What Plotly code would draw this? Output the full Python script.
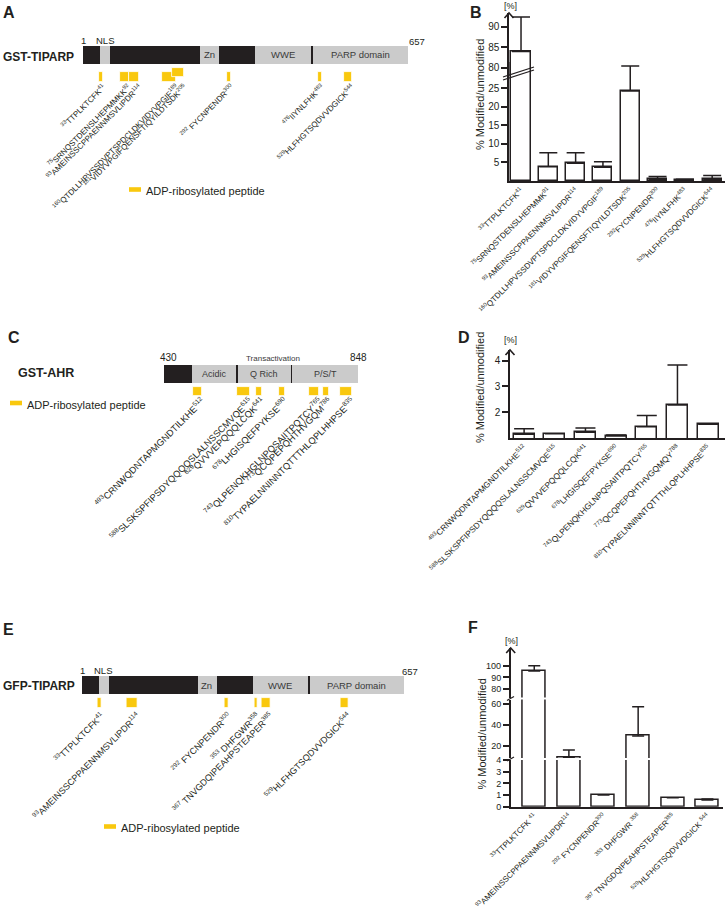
import plotly.graph_objects as go

W, H = 725, 919
def fx(p): return p / W
def fy(p): return 1 - p / H

FONT = "Liberation Sans, Arial, sans-serif"
INK = "#231f20"
YELLOW = "#f9c80e"
GREY = "#cbcbcb"
DOMTXT = "#3a3a3a"

# ------------------------------------------------------------------ data
tiparp_length = 657
tiparp_domain_names = ["NLS", "Zn", "WWE", "PARP domain"]
tiparp_domain_start = [34, 236, 348, 465]
tiparp_domain_end = [55, 275, 461, 657]

ahr_first, ahr_last = 430, 848
ahr_domain_names = ["Acidic", "Q Rich", "P/S/T"]
ahr_domain_start = [490, 589, 706]
ahr_domain_end = [586, 703, 848]

a_pep_start = [33, 75, 93, 160, 181, 292, 476, 529]
a_pep_end = [41, 92, 114, 189, 205, 300, 483, 544]
a_pep_seq = ["TTPLKTCFK", "SRNQSTDENSLHEPMMKK", "AMEINSSCPPAENNMSVLIPDR",
             "QTDLLHPVSSDVPTSPDCLDKVIDYVPGIF", "VIDYVPGIFQENSFTIQYILDTSDK",
             " FYCNPENDR", "IIYNLFHK", "HLFHGTSQDVVDGICK"]

b_labels = ["<sup>33</sup>TTPLKTCFK<sup>41</sup>",
            "<sup>75</sup>SRNQSTDENSLHEPMMK<sup>91</sup>",
            "<sup>93</sup>AMEINSSCPPAENNMSVLIPDR<sup>114</sup>",
            "<sup>160</sup>QTDLLHPVSSDVPTSPDCLDKVIDYVPGIF<sup>189</sup>",
            "<sup>181</sup>VIDYVPGIFQENSFTIQYILDTSDK<sup>205</sup>",
            "<sup>292</sup>FYCNPENDR<sup>300</sup>",
            "<sup>476</sup>IIYNLFHK<sup>483</sup>",
            "<sup>529</sup>HLFHGTSQDVVDGICK<sup>544</sup>"]
b_values = [84.0, 3.8, 4.8, 3.7, 24.2, 0.5, 0.3, 0.5]
b_errors = [8.4, 3.8, 2.8, 1.5, 6.7, 0.7, 0.2, 1.0]

c_pep_start = [493, 588, 629, 678, 743, 773, 810]
c_pep_end = [512, 615, 641, 690, 765, 786, 835]
c_pep_seq = ["CRNWQDNTAPMGNDTILKHE", "SLSKSPFIPSDYQQQQSLALNSSCMVQE", "QVVVEPQQQLCQK",
             "LHGISQEFPYKSE", "QLPENQKHGLNPQSAIITPQTCY", "QCQPEPQHTHVGQM",
             "TYPAELNNINNTQTTTHLQPLHHPSE"]

d_labels = ["<sup>493</sup>CRNWQDNTAPMGNDTILKHE<sup>512</sup>",
            "<sup>588</sup>SLSKSPFIPSDYQQQQSLALNSSCMVQE<sup>615</sup>",
            "<sup>629</sup>QVVVEPQQQLCQK<sup>641</sup>",
            "<sup>678</sup>LHGISQEFPYKSE<sup>690</sup>",
            "<sup>743</sup>QLPENQKHGLNPQSAIITPQTCY<sup>765</sup>",
            "<sup>773</sup>QCQPEPQHTHVGQMQY<sup>788</sup>",
            "<sup>810</sup>TYPAELNNINNTQTTTHLQPLHHPSE<sup>835</sup>"]
d_values = [1.15, 1.16, 1.22, 1.08, 1.44, 2.28, 1.53]
d_errors = [0.21, 0.0, 0.17, 0.04, 0.43, 1.55, 0.0]

e_pep_start = [33, 93, 292, 353, 367, 529]
e_pep_end = [41, 114, 300, 358, 385, 544]
e_pep_seq = ["TTPLKTCFK", "AMEINSSCPPAENNMSVLIPDR", " FYCNPENDR", " DHFGWR",
             " TNVGDQIPEAHPSTEAPER", "HLFHGTSQDVVDGICK"]

f_labels = ["<sup>33</sup>TTPLKTCFK <sup>41</sup>",
            "<sup>93</sup>AMEINSSCPPAENNMSVLIPDR<sup>114</sup>",
            "<sup>292</sup> FYCNPENDR<sup>300</sup>",
            "<sup>353</sup> DHFGWR <sup>358</sup>",
            "<sup>367</sup> TNVGDQIPEAHPSTEAPER<sup>385</sup>",
            "<sup>529</sup>HLFHGTSQDVVDGICK <sup>544</sup>"]
f_values = [95.4, 8.8, 1.0, 29.4, 0.77, 0.57]
f_errors = [4.6, 7.0, 0.0, 28.3, 0.0, 0.09]

legend_text = "ADP-ribosylated peptide"
y_title = "% Modified/unmodified"

# ------------------------------------------------------------------ figure
fig = go.Figure()
annotations = []
shapes = []


def txt(x, y, text, size, xanchor="center", yanchor="middle", xref="paper",
        angle=0, color=INK, xshift=0):
    annotations.append(dict(x=x, y=y, xref=xref, yref="paper", text=text,
                            showarrow=False, xanchor=xanchor, yanchor=yanchor,
                            textangle=angle, xshift=xshift,
                            font=dict(family=FONT, size=size, color=color)))


def diagram_axes(n, xdom, xrange, ydom, yrange, pep_start, pep_end, pep_seq,
                 label_axis_px, label_size):
    """Hidden map axes; the x axis only carries the peptide labels as tick labels."""
    sx = "" if n == 1 else str(n)
    fig.layout["xaxis" + sx] = dict(
        domain=[fx(xdom[0]), fx(xdom[1])], range=xrange,
        anchor="free", position=fy(label_axis_px), side="bottom",
        showline=False, ticks="", showgrid=False, zeroline=False,
        tickmode="array", tickvals=list(pep_end),
        ticktext=[f"<sup>{s}</sup>{q}<sup>{e}</sup>" for s, e, q in zip(pep_start, pep_end, pep_seq)],
        tickangle=-45, tickfont=dict(family=FONT, size=label_size, color=INK),
        fixedrange=True, automargin=False)
    fig.layout["yaxis" + sx] = dict(domain=[fy(ydom[1]), fy(ydom[0])], range=yrange,
                                    anchor="x" + sx, visible=False, fixedrange=True)
    return ("x" + sx, "y" + sx)


def diagram(ax, first, last, dom_start, dom_end, pep_start, pep_end,
            bar_y, bar_h, pep_y, pep_h, raise_px):
    xa, ya = ax
    fig.add_trace(go.Bar(orientation="h", base=[first], x=[last - first], y=[bar_y],
                         width=[bar_h], marker=dict(color=INK, line=dict(width=0)),
                         xaxis=xa, yaxis=ya, hoverinfo="skip"))
    fig.add_trace(go.Bar(orientation="h", base=dom_start,
                         x=[e - s for s, e in zip(dom_start, dom_end)],
                         y=[bar_y] * len(dom_start), width=[bar_h] * len(dom_start),
                         marker=dict(color=GREY, line=dict(width=0)),
                         xaxis=xa, yaxis=ya, hoverinfo="skip"))
    ys, ws, prev_end = [], [], -1
    for s, e in zip(pep_start, pep_end):
        if s <= prev_end:
            ys.append(pep_y - raise_px)
            ws.append(pep_h - 1)
        else:
            ys.append(pep_y)
            ws.append(pep_h)
        prev_end = e
    fig.add_trace(go.Bar(orientation="h", base=[s - 1 for s in pep_start],
                         x=[e - s + 1 for s, e in zip(pep_start, pep_end)],
                         y=ys, width=ws,
                         marker=dict(color=YELLOW, line=dict(color="white", width=0.8)),
                         xaxis=xa, yaxis=ya, hoverinfo="skip"))


def domain_names(xa, names, starts, ends, y, size=9.5, skip=()):
    for nm, s, e in zip(names, starts, ends):
        if nm in skip:
            continue
        txt((s + e) / 2, fy(y), nm, size, xref=xa, color=DOMTXT)


def legend_key(x, y):
    shapes.append(dict(type="rect", xref="paper", yref="paper",
                       x0=fx(x), x1=fx(x + 12), y0=fy(y + 2.3), y1=fy(y - 2.3),
                       fillcolor=YELLOW, line=dict(width=0)))
    txt(fx(x + 15), fy(y + 1.5), legend_text, 11, xanchor="left")


def chevron(x, ytip):
    shapes.append(dict(type="path", xref="paper", yref="paper",
                       path=f"M {fx(x-4.5)},{fy(ytip+5)} L {fx(x)},{fy(ytip)} L {fx(x+4.5)},{fy(ytip+5)}",
                       line=dict(color=INK, width=1.6)))


def slash(x0, y0, x1, y1, w=1.2):
    shapes.append(dict(type="line", xref="paper", yref="paper",
                       x0=fx(x0), y0=fy(y0), x1=fx(x1), y1=fy(y1),
                       line=dict(color=INK, width=w)))


def bar_axes(n, xdom, xrange, ydom, yrange, tickvals, cats, show_x, ticksize, labelsize=8):
    sx = str(n)
    fig.layout["xaxis" + sx] = dict(
        domain=[fx(xdom[0]), fx(xdom[1])], range=xrange, anchor="y" + sx,
        type="category", categoryorder="array", categoryarray=cats,
        tickmode="array", tickvals=cats, ticktext=cats,
        showline=show_x, linecolor=INK, linewidth=1.5, ticks="",
        showticklabels=show_x, tickangle=-45,
        tickfont=dict(family=FONT, size=labelsize, color=INK),
        showgrid=False, zeroline=False, fixedrange=True, automargin=False)
    fig.layout["yaxis" + sx] = dict(
        domain=[fy(ydom[1]), fy(ydom[0])], range=yrange, anchor="x" + sx,
        tickmode="array", tickvals=tickvals, ticks="outside", ticklen=6,
        tickwidth=1.5, tickcolor=INK, showline=True, linecolor=INK, linewidth=1.5,
        tickfont=dict(family=FONT, size=ticksize, color=INK),
        showgrid=False, zeroline=False, fixedrange=True, automargin=False)
    return ("x" + sx, "y" + sx)


def bars(ax, cats, vals, errs, width, capw):
    fig.add_trace(go.Bar(
        x=cats, y=vals, width=width, xaxis=ax[0], yaxis=ax[1],
        marker=dict(color="white", line=dict(color=INK, width=1.5)),
        error_y=dict(type="data", symmetric=False, array=errs,
                     arrayminus=[0] * len(errs), color=INK, thickness=1.5, width=capw),
        hoverinfo="skip"))


# ---------------- Panel A: GST-TIPARP map
axA = diagram_axes(1, (83, 408), [0, tiparp_length], (30, 95), [95, 30],
                   a_pep_start, a_pep_end, a_pep_seq, 80, 8)
diagram(axA, 0, tiparp_length, tiparp_domain_start, tiparp_domain_end,
        a_pep_start, a_pep_end, 55, 18, 76.7, 10, 4.5)
domain_names(axA[0], tiparp_domain_names, tiparp_domain_start, tiparp_domain_end, 55,
             skip=("NLS",))
txt(2, fy(40.5), "1", 9.5, xref=axA[0])
txt((tiparp_domain_start[0] + tiparp_domain_end[0]) / 2, fy(40.5), "NLS", 9.5, xref=axA[0])
txt(tiparp_length, fy(41.5), str(tiparp_length), 9.5, xanchor="left", xref=axA[0], xshift=-1)
txt(fx(1), fy(57), "<b>GST-TIPARP</b>", 12, xanchor="left")
txt(fx(1), fy(12.5), "<b>A</b>", 16, xanchor="left")
legend_key(129, 189.5)

# ---------------- Panel B: bar chart with broken axis
axB_lo = bar_axes(4, (509, 725), [-0.44, 7.47], (62, 181), [0, 32],
                  [5, 10, 15, 20, 25], b_labels, True, 10)
axB_hi = bar_axes(5, (509, 725), [-0.44, 7.47], (12.6, 76), [78, 93.5],
                  [80, 85, 90], b_labels, False, 10)
bars(axB_lo, b_labels, b_values, b_errors, 0.7, 9)
bars(axB_hi, b_labels, b_values, b_errors, 0.7, 9)
slash(503, 80, 534, 70)
slash(503, 77, 534, 67)
chevron(509, 13)
txt(fx(510), fy(6.5), "[%]", 9)
txt(fx(480), fy(95), y_title, 11, angle=-90)
txt(fx(468), fy(12.5), "<b>B</b>", 16, xanchor="left")

# ---------------- Panel C: GST-AHR map
axC = diagram_axes(2, (164, 358), [ahr_first, ahr_last], (350, 410), [410, 350],
                   c_pep_start, c_pep_end, c_pep_seq, 393, 9.3)
diagram(axC, ahr_first, ahr_last, ahr_domain_start, ahr_domain_end,
        c_pep_start, c_pep_end, 374, 18, 391.5, 9, 4.5)
domain_names(axC[0], ahr_domain_names, ahr_domain_start, ahr_domain_end, 374, size=9)
txt(ahr_first, fy(357.5), str(ahr_first), 10, xref=axC[0], xshift=4)
txt(ahr_last, fy(357.5), str(ahr_last), 10, xref=axC[0])
txt((ahr_domain_start[0] + ahr_last) / 2, fy(358.3), "Transactivation", 8, xref=axC[0],
    color=DOMTXT, xshift=-2)
txt(fx(16), fy(373.5), "<b>GST-AHR</b>", 12.5, xanchor="left")
txt(fx(6), fy(337), "<b>C</b>", 16, xanchor="left")
legend_key(10, 403)

# ---------------- Panel D
axD = bar_axes(6, (510, 725), [-0.46, 6.55], (350, 438), [1, 4.41],
               [2, 3, 4], d_labels, True, 10, labelsize=8.3)
bars(axD, d_labels, d_values, d_errors, 0.68, 10)
chevron(510, 350)
txt(fx(510), fy(340), "[%]", 9)
txt(fx(480), fy(388), y_title, 11, angle=-90)
txt(fx(456), fy(337), "<b>D</b>", 16, xanchor="left")

# ---------------- Panel E: GFP-TIPARP map
axE = diagram_axes(3, (81.5, 404), [0, tiparp_length], (655, 715), [715, 655],
                   e_pep_start, e_pep_end, e_pep_seq, 708, 9)
diagram(axE, 0, tiparp_length, tiparp_domain_start, tiparp_domain_end,
        e_pep_start, e_pep_end, 685, 18.3, 703, 10, 4.5)
domain_names(axE[0], tiparp_domain_names, tiparp_domain_start, tiparp_domain_end, 685,
             skip=("NLS",))
txt(2, fy(670.5), "1", 9.5, xref=axE[0])
txt((tiparp_domain_start[0] + tiparp_domain_end[0]) / 2, fy(670.5), "NLS", 9.5, xref=axE[0])
txt(tiparp_length, fy(671), str(tiparp_length), 9.5, xanchor="left", xref=axE[0], xshift=-4)
txt(fx(1), fy(686), "<b>GFP-TIPARP</b>", 12, xanchor="left")
txt(fx(1), fy(629), "<b>E</b>", 16, xanchor="left")
legend_key(104, 826.5)

# ---------------- Panel F: three-segment axis
axF_lo = bar_axes(7, (510.7, 723), [-0.68, 5.45], (760, 806.7), [0, 4],
                  [0, 1, 2, 3, 4], f_labels, True, 9)
axF_mid = bar_axes(8, (510.7, 723), [-0.68, 5.45], (699.5, 758), [8.1, 64.6],
                   [20, 40, 60], f_labels, False, 9)
axF_hi = bar_axes(9, (510.7, 723), [-0.68, 5.45], (648, 697.5), [72.7, 115.3],
                  [80, 90, 100], f_labels, False, 9)
for ax in (axF_lo, axF_mid, axF_hi):
    bars(ax, f_labels, f_values, f_errors, 0.66, 6)
slash(507, 700.5, 514, 696.5)
slash(507, 761, 514, 757)
chevron(510.7, 648)
txt(fx(511), fy(640.7), "[%]", 9)
txt(fx(481.5), fy(734), y_title, 11, angle=-90)
txt(fx(466), fy(627.5), "<b>F</b>", 16, xanchor="left")

fig.update_layout(
    width=W, height=H, margin=dict(l=0, r=0, t=0, b=0, autoexpand=False),
    paper_bgcolor="white", plot_bgcolor="rgba(0,0,0,0)",
    showlegend=False, barmode="overlay", bargap=0,
    font=dict(family=FONT, color=INK),
    annotations=annotations, shapes=shapes,
)

fig.write_html("out.html", config={"displayModeBar": False},
               post_script="document.body.style.margin='0';document.body.style.padding='0';")
